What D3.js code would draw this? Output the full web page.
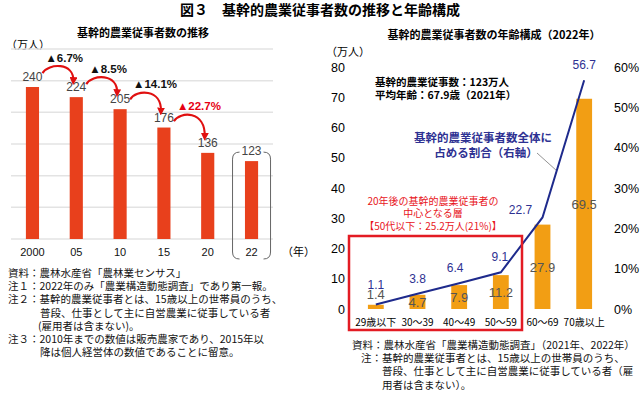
<!DOCTYPE html>
<html><head><meta charset="utf-8">
<script src="https://cdn.jsdelivr.net/npm/d3@7"></script>
<style>
body{margin:0;background:#fff;}
svg{display:block;}
text{font-family:"Noto Sans CJK JP","Noto Sans",sans-serif;}
.num{font-family:"Liberation Sans",Arial,sans-serif;}
</style></head>
<body><svg id="c" width="640" height="394"></svg>
<script>
// ---- Left chart data ----
const years = ["2000","05","10","15","20","22"];
const workers = [240,224,205,176,136,123];
const declines = ["▲6.7%","▲8.5%","▲14.1%","▲22.7%"];
const leftGrid = [0,50,100,150,200,250,300];

// ---- Right chart data ----
const ageGroups = ["29歳以下","30～39","40～49","50～59","60～69","70歳以上"];
const ageCounts = [1.4,4.7,7.9,11.2,27.9,69.5];
const ageShares = [1.1,3.8,6.4,9.1,22.7,56.7];
const leftTicks = [0,10,20,30,40,50,60,70,80];
const rightTicks = [0,10,20,30,40,50,60];

const notesLeft = [
  ["資料：農林水産省「農林業センサス」", 8],
  ["注１：2022年のみ「農業構造動態調査」であり第一報。", 8],
  ["注２：基幹的農業従事者とは、15歳以上の世帯員のうち、", 8],
  ["普段、仕事として主に自営農業に従事している者", 40],
  ["(雇用者は含まない)。", 38],
  ["注３：2010年までの数値は販売農家であり、2015年以", 8],
  ["降は個人経営体の数値であることに留意。", 40]
];
const notesRight = [
  ["資料：農林水産省「農業構造動態調査」（2021年、2022年）", 352],
  ["注：基幹的農業従事者とは、15歳以上の世帯員のうち、", 361],
  ["普段、仕事として主に自営農業に従事している者（雇", 382],
  ["用者は含まない）。", 382]
];

const svg = d3.select("#c");

// Main title
svg.append("text").attr("x",320).attr("y",15).attr("text-anchor","middle")
  .attr("font-size",14).attr("font-weight","bold").text("図３　基幹的農業従事者数の推移と年齢構成");

// ================= LEFT CHART =================
const xL = d3.scaleBand().domain(years).range([11,273]).paddingInner(0.7).paddingOuter(0.34);
const yL = d3.scaleLinear().domain([0,300]).range([239,49]);
const cL = i => xL(years[i])+xL.bandwidth()/2;

svg.append("text").attr("x",143).attr("y",37).attr("text-anchor","middle")
  .attr("font-size",11).attr("font-weight","bold").text("基幹的農業従事者数の推移");
svg.append("text").attr("x",6).attr("y",49).attr("font-size",11).text("（万人）");

svg.append("g").selectAll("line").data(leftGrid).join("line")
  .attr("x1",11).attr("x2",273).attr("y1",d=>yL(d)).attr("y2",d=>yL(d))
  .attr("stroke","#e3e3e3").attr("stroke-width",1.5);

svg.append("g").selectAll("rect").data(workers).join("rect")
  .attr("x",(d,i)=>xL(years[i])).attr("width",xL.bandwidth())
  .attr("y",d=>yL(d)).attr("height",d=>yL(0)-yL(d))
  .attr("fill","#e8401c");

svg.append("g").selectAll("text").data(workers).join("text").attr("class","num")
  .attr("x",(d,i)=>cL(i)).attr("y",d=>yL(d)-6)
  .attr("text-anchor","middle").attr("font-size",12).attr("fill","#444").text(d=>d);

svg.append("g").selectAll("text").data(years).join("text").attr("class","num")
  .attr("x",d=>xL(d)+xL.bandwidth()/2).attr("y",256)
  .attr("text-anchor","middle").attr("font-size",11).attr("fill","#111").text(d=>d);
svg.append("text").attr("x",282).attr("y",256).attr("font-size",11).text("（年）");

// bracket around 2022
{
  const c = cL(5);
  const l = c-19, r = c+19, t = yL(123)-9, b = 259;
  svg.append("path").attr("fill","none").attr("stroke","#666").attr("stroke-width",1)
    .attr("d",`M${l+7},${t} Q${l},${t} ${l},${t+7} L${l},${b-7} Q${l},${b} ${l+7},${b}`);
  svg.append("path").attr("fill","none").attr("stroke","#666").attr("stroke-width",1)
    .attr("d",`M${r-7},${t} Q${r},${t} ${r},${t+7} L${r},${b-7} Q${r},${b} ${r-7},${b}`);
}

// arrows
const defs = svg.append("defs");
defs.append("marker").attr("id","ah").attr("viewBox","0 0 10 10").attr("refX",5).attr("refY",5)
  .attr("markerWidth",3.6).attr("markerHeight",3.6).attr("orient","auto")
  .append("path").attr("d","M0,0 L10,5 L0,10 z").attr("fill","#e01010");

declines.forEach((lab,i)=>{
  const mid = (yL(workers[i])+yL(workers[i+1]))/2;
  const sx = cL(i)+10, sy = mid-19;
  const ex = cL(i+1)-3, ey = yL(workers[i+1])-16;
  svg.append("path").attr("fill","none").attr("stroke","#e01010").attr("stroke-width",2.2)
    .attr("d",`M${sx},${sy} C${sx+6},${sy-10} ${ex+1},${sy-11} ${ex},${ey}`)
    .attr("marker-end","url(#ah)");
  svg.append("text").attr("class","num").attr("x",cL(i)+13).attr("y",sy-11)
    .attr("font-size",11.5).attr("font-weight","bold")
    .attr("fill", i===3?"#e60012":"#111").text(lab);
});

// left notes
notesLeft.forEach((n,i)=>{
  svg.append("text").attr("x",n[1]).attr("y",277+i*13.2).attr("font-size",10.5).attr("fill","#111").text(n[0]);
});

// ================= RIGHT CHART =================
const xR = d3.scaleBand().domain(ageGroups).range([355,605]).paddingInner(0.62).paddingOuter(0.31);
const yR = d3.scaleLinear().domain([0,80]).range([309,67]);
const yP = d3.scaleLinear().domain([0,60]).range([309,67]);
const cx = i => xR(ageGroups[i])+xR.bandwidth()/2;

svg.append("text").attr("x",494).attr("y",39).attr("text-anchor","middle")
  .attr("font-size",11).attr("font-weight","bold").text("基幹的農業従事者数の年齢構成（2022年）");
svg.append("text").attr("x",326).attr("y",56).attr("font-size",11).text("（万人）");

svg.append("g").selectAll("text").data(leftTicks).join("text").attr("class","num")
  .attr("x",345).attr("y",d=>yR(d)+4.5).attr("text-anchor","end").attr("font-size",12.5).text(d=>d);
svg.append("g").selectAll("text").data(rightTicks).join("text").attr("class","num")
  .attr("x",614).attr("y",d=>yP(d)+4.5).attr("font-size",12.5).text(d=>d+"%");

svg.append("g").selectAll("rect").data(ageCounts).join("rect")
  .attr("x",(d,i)=>xR(ageGroups[i])).attr("width",xR.bandwidth())
  .attr("y",d=>yR(d)).attr("height",d=>yR(0)-yR(d)).attr("fill","#f29e14");

svg.append("g").selectAll("text").data(ageCounts).join("text").attr("class","num")
  .attr("x",(d,i)=>cx(i))
  .attr("y",(d,i)=> i===0 ? yR(d)-6 : (yR(d)+yR(0))/2+5)
  .attr("text-anchor","middle").attr("font-size",13).attr("fill","#555").text(d=>d.toFixed(1));

svg.append("g").selectAll("text").data(ageGroups).join("text")
  .attr("x",(d,i)=>cx(i)).attr("y",326).attr("text-anchor","middle").attr("font-size",10).text(d=>d);

// leader line
svg.append("line").attr("x1",537).attr("y1",153).attr("x2",557).attr("y2",171)
  .attr("stroke","#777").attr("stroke-width",0.8);

// share line
const line = d3.line().x((d,i)=>cx(i)).y(d=>yP(d));
svg.append("path").datum(ageShares).attr("d",line).attr("fill","none")
  .attr("stroke","#1e2a8c").attr("stroke-width",2);

svg.append("g").selectAll("text").data(ageShares).join("text").attr("class","num")
  .attr("x",(d,i)=>cx(i)+(i===4?-22:(i===2?-4:(i===3?-1:0))))
  .attr("y",(d,i)=>yP(d)-(i===4?3:(i===0?16:11)))
  .attr("text-anchor","middle").attr("font-size",12).attr("fill","#2e3192").text(d=>d.toFixed(1));

// annotations
svg.append("text").attr("x",375).attr("y",86).attr("font-size",10.5).attr("font-weight","bold").text("基幹的農業従事数：123万人");
svg.append("text").attr("x",375).attr("y",99).attr("font-size",10.5).attr("font-weight","bold").text("平均年齢：67.9歳（2021年）");
svg.append("text").attr("x",483).attr("y",142).attr("text-anchor","middle").attr("font-size",11.5)
  .attr("font-weight","bold").attr("fill","#2e3192").text("基幹的農業従事者数全体に");
svg.append("text").attr("x",486).attr("y",157).attr("text-anchor","middle").attr("font-size",11.5)
  .attr("font-weight","bold").attr("fill","#2e3192").text("占める割合（右軸）");

svg.append("text").attr("x",433).attr("y",204.5).attr("text-anchor","middle").attr("font-size",10)
  .attr("fill","#e8141b").text("20年後の基幹的農業従事者の");
svg.append("text").attr("x",433).attr("y",217).attr("text-anchor","middle").attr("font-size",10)
  .attr("fill","#e8141b").text("中心となる層");
svg.append("text").attr("x",433).attr("y",229.5).attr("text-anchor","middle").attr("font-size",10)
  .attr("fill","#e8141b").text("【50代以下：25.2万人(21%)】");

svg.append("rect").attr("x",349).attr("y",236).attr("width",173).attr("height",94)
  .attr("fill","none").attr("stroke","#e31b23").attr("stroke-width",2.5);

notesRight.forEach((n,i)=>{
  svg.append("text").attr("x",n[1]).attr("y",349+i*13.2).attr("font-size",10.5).attr("fill","#111").text(n[0]);
});
</script></body></html>
